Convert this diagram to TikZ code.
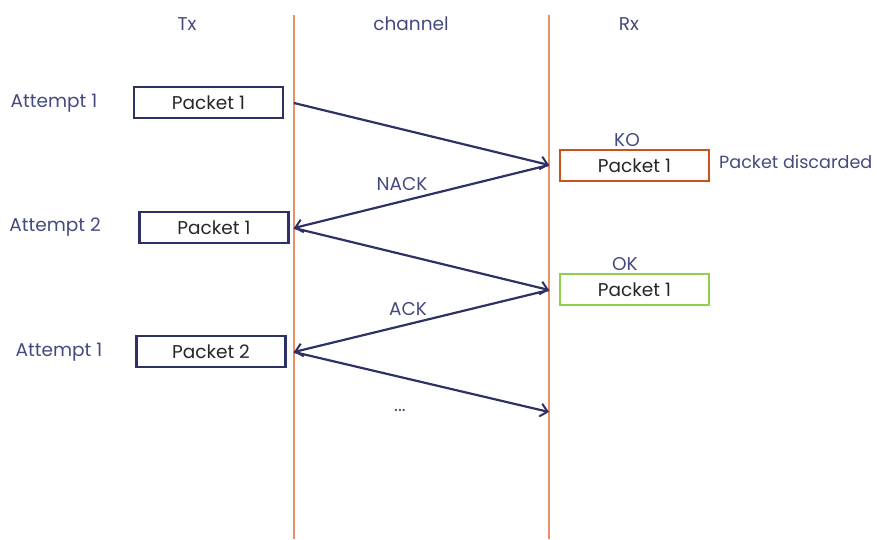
\documentclass[tikz,border=0pt]{standalone}
\usepackage{fontspec}
\setmainfont{Poppins}
\usetikzlibrary{arrows.meta}
\definecolor{navy}{HTML}{2E3163}
\definecolor{labelnavy}{HTML}{454A7E}
\definecolor{lifeline}{HTML}{E8906A}
\definecolor{korust}{HTML}{C9521F}
\definecolor{okgreen}{HTML}{8FD14F}
\tikzset{
	pkt/.style={draw=navy, line width=2.4pt, minimum width=149pt, minimum height=31pt, inner sep=0pt, font=\fontsize{18.5}{22}\selectfont, text=black!85},
	lbl/.style={text=labelnavy, font=\fontsize{18.5}{22}\selectfont, inner sep=0pt},
	msg/.style={draw=navy, line width=2.2pt, ->}
}
\begin{document}
\begin{tikzpicture}[x=1pt, y=-1pt, >={Straight Barb[length=7pt, width=13pt, line width=2pt]}]
		\useasboundingbox (0, 0) rectangle (877, 539);
		% lifelines
		\draw[lifeline, line width=1.3pt] (294, 15) -- (294, 539);
		\draw[lifeline, line width=1.3pt] (549, 15) -- (549, 539);
		\node[lbl] (tx) at (187, 24) {Tx};
		\node[lbl] (chan) at (411, 24) {channel};
		\node[lbl] (rx) at (629, 24) {Rx};
		
		% transmitter side
		\node[lbl] (att1) at (54, 103) {Attempt 1};
		\node[pkt] (txp1) at (208.5, 102.5) {Packet 1};
		\node[lbl] (att2) at (55, 227) {Attempt 2};
		\node[pkt] (txp2) at (214, 227.5) {Packet 1};
		\node[lbl] (att3) at (59, 352) {Attempt 1};
		\node[pkt] (txp3) at (211, 351.5) {Packet 2};
		
		% receiver side
		\node[lbl] (ko) at (627, 140) {KO};
		\node[pkt, draw=korust] (rxp1) at (634.5, 165.5) {Packet 1};
		\node[lbl, anchor=west, font=\fontsize{17.6}{21}\selectfont] (disc) at (719, 162) {Packet discarded};
		\node[lbl] (ok) at (625, 264) {OK};
		\node[pkt, draw=okgreen] (rxp2) at (634.5, 289.5) {Packet 1};
		
		% points on the lifelines
		\coordinate (t1) at (294, 103);
		\coordinate (r1) at (549, 165);
		\coordinate (t2) at (294, 228);
		\coordinate (r2) at (549, 290);
		\coordinate (t3) at (294, 352);
		\coordinate (r3) at (549, 412);
		
		% messages
		\draw[msg] (t1) -- (r1);
		\draw[msg] (r1) -- (t2);
		\draw[msg] (t2) -- (r2);
		\draw[msg] (r2) -- (t3);
		\draw[msg] (t3) -- (r3);
		\node[lbl] (nack) at (402, 184) {NACK};
		\node[lbl] (ack) at (408, 309) {ACK};
		\node[lbl] (dots) at (400, 410) {...};
	\end{tikzpicture}
\end{document}
